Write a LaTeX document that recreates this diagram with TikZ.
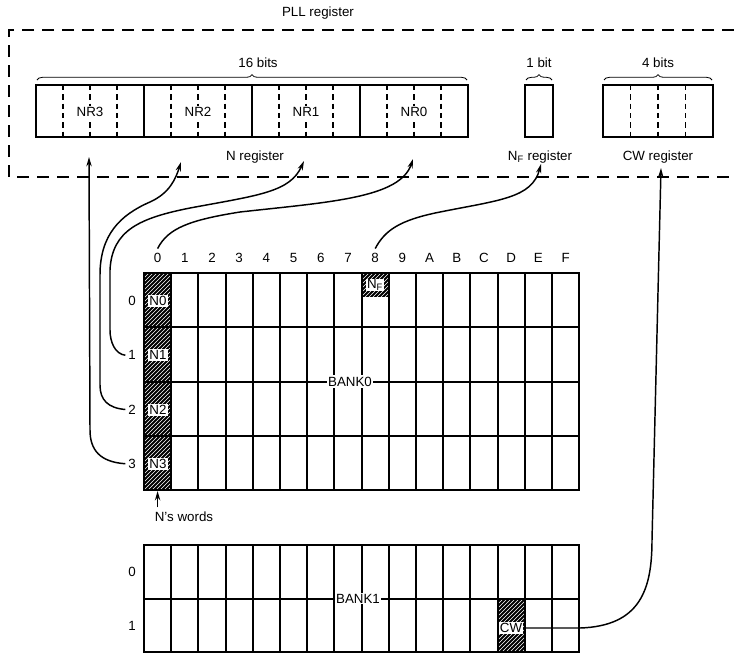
\documentclass[tikz,border=0pt]{standalone}
\usepackage{fontspec}
\setmainfont{Liberation Sans}
\usetikzlibrary{positioning,arrows,arrows.meta,patterns,calc,decorations.pathreplacing}
\tikzset{
  >={Stealth[length=7pt,width=4pt]},
  every node/.style={font=\fontsize{10}{11}\selectfont},
  % --- boxes
  frame/.style  = {dash pattern=on 9pt off 6pt, line width=1.2pt},
  reg/.style    = {draw, line width=1.5pt},
  bitdiv/.style = {dash pattern=on 4pt off 3pt, line width=0.9pt},
  grid/.style   = {line width=1.5pt},
  hatch/.style  = {pattern=north east lines, pattern color=white, preaction={fill=black}},
  tag/.style    = {fill=white, inner sep=1pt},
  rowlbl/.style = {inner sep=2pt},
  brc/.style    = {decorate, decoration={brace, amplitude=4pt}, line width=0.6pt},
  % --- edges
  link/.style   = {->, line width=1.1pt},
}
\begin{document}
\begin{tikzpicture}[x=0.75pt,y=-0.75pt]
  \useasboundingbox (0,0) rectangle (734,654);
  % PLL register frame
  \node (pll) at (318,13) {PLL register};
  \draw[frame] (734,30) -- (9,30) -- (9,177) -- (734,177);
  % N register
  \draw[reg] (36,85) rectangle (468,137);
  \foreach \g in {0,...,3}
    \foreach \b in {1,2,3}
      \draw[bitdiv] ({36+108*\g+27*\b},85) -- ++(0,52);
  \foreach \x in {144,252,360} \draw[reg] (\x,85) -- ++(0,52);
  \foreach \g/\n in {0/3,1/2,2/1,3/0}
    \node[tag] (nr\n) at ({90+108*\g},112) {NR\n};
  \draw[brc] (37,80) -- (467,80);
  \node (b16) at (258,63) {16 bits};
  % NF register
  \draw[reg] (525,85) rectangle (553,137);
  \draw[brc] (526,80) -- (552,80);
  \node (b1) at (539,63) {1 bit};
  % CW register
  \draw[reg] (603,85) rectangle (713,137);
  \foreach \b in {1,2,3} \draw[bitdiv] ({603+27.5*\b},85) -- ++(0,52);
  \draw[brc] (604,80) -- (712,80);
  \node (b4) at (658,63) {4 bits};
  \node (nlab) at (255,157) {N register};
  \node (nflab) at (540,157) {N\textsubscript{F} register};
  \node (cwlab) at (658,157) {CW register};

  % BANK0
  \fill[hatch] (144,273) rectangle (171.2,490);
  \fill[hatch] (361.6,273) rectangle (388.8,297);
  \draw[grid] (144,273) rectangle (579.2,490);
  \foreach \c in {1,...,15} \draw[grid] ({144+27.2*\c},273) -- ++(0,217);
  \foreach \r in {1,2,3} \draw[grid] (144,{273+54.25*\r}) -- ++(435.2,0);
  \foreach \t [count=\c from 0] in {0,1,2,3,4,5,6,7,8,9,A,B,C,D,E,F}
    \node (c\c) at ({157.6+27.2*\c},258) {\t};
  \foreach \r in {0,...,3} {
    \node[tag] (n\r) at (158,{301+54.25*\r}) {N\r};
    \node[rowlbl] (r\r) at (132,{301+54.25*\r}) {\r};
  }
  \node[tag, inner sep=0.5pt] (nf) at (375,285) {N\textsubscript{F}};
  \node[tag] (bank0) at (350,381.5) {BANK0};
  \node (nwords) at (184,517) {N's words};
  \coordinate (w0) at (157.6,491);
  \draw[link] (w0 |- nwords.north) -- (w0);

  % BANK1
  \fill[hatch] (497.6,598.5) rectangle (524.8,652);
  \draw[grid] (144,545) rectangle (579.2,652);
  \foreach \c in {1,...,15} \draw[grid] ({144+27.2*\c},545) -- ++(0,107);
  \draw[grid] (144,598.5) -- ++(435.2,0);
  \node[rowlbl] (s0) at (132,572) {0};
  \node[rowlbl] (s1) at (132,626) {1};
  \node[tag] (bank1) at (358,598.5) {BANK1};
  \node[tag] (cw) at (511,628) {CW};

  % transfers to the PLL register
  \coordinate (t3) at (89,157);
  \coordinate (t2) at (181,162);
  \coordinate (t1) at (304,161);
  \coordinate (t0) at (413,159);
  \coordinate (tf) at (541,164);
  \coordinate (tc) at (661,168);
  \draw[link] (r3.west) .. controls (100,462) and (90,450) .. (90,430) -- (t3);
  \draw[link] (r2.west) .. controls (108,408) and (100,400) .. (100,385) -- (100,275)
    .. controls (100,235) and (120,215) .. (150,202) .. controls (170,193) and (176,178) .. (t2);
  \draw[link] (r1.west) .. controls (115,354) and (110,342) .. (110,330) -- (110,270)
    .. controls (112,230) and (140,218) .. (190,208) .. controls (260,195) and (290,192) .. (t1);
  \draw[link] (c0.north) .. controls (168,228) and (190,220) .. (240,212)
    .. controls (330,202) and (400,198) .. (t0);
  \draw[link] (c8.north) .. controls (385,230) and (400,220) .. (440,212)
    .. controls (500,200) and (532,198) .. (tf);
  \draw[link] (cw.east) -- (580,628) .. controls (640,626) and (652,590) .. (652,540) -- (tc);
\end{tikzpicture}
\end{document}
